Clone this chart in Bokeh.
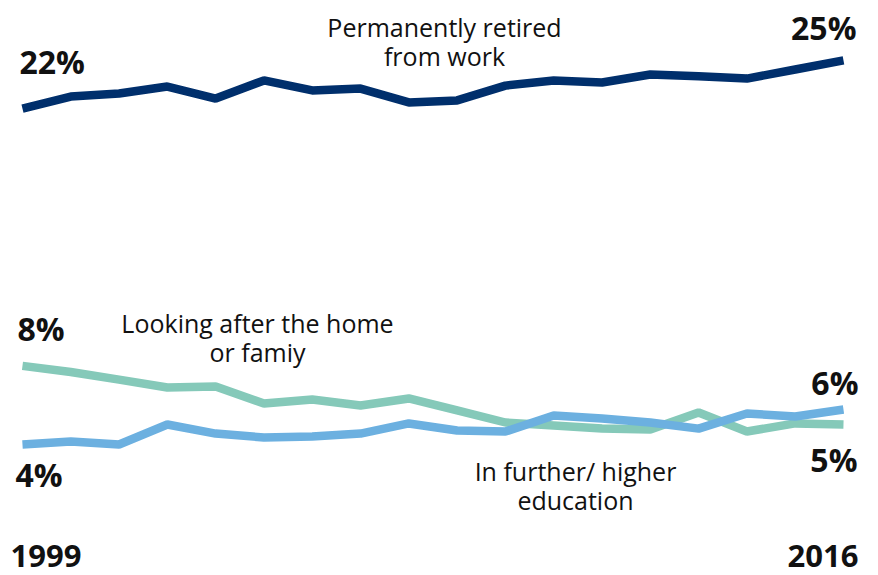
from bokeh.plotting import figure
from bokeh.models import Range1d, Label
from bokeh.embed import file_html
from bokeh.resources import INLINE

years = list(range(1999, 2017))
retired = [22.36, 23.01, 23.17, 23.55, 22.90, 23.88, 23.34, 23.44, 22.69, 22.80,
           23.60, 23.88, 23.77, 24.20, 24.10, 23.98, 24.47, 24.96]
home = [8.45, 8.12, 7.71, 7.28, 7.34, 6.42, 6.63, 6.31, 6.69, 6.04,
        5.39, 5.23, 5.06, 5.01, 5.93, 4.90, 5.34, 5.28]
education = [4.20, 4.36, 4.20, 5.28, 4.79, 4.58, 4.63, 4.79, 5.34, 4.96,
             4.90, 5.77, 5.61, 5.39, 5.06, 5.88, 5.71, 6.09]

series_names = ["Permanently retired\nfrom work", "Looking after the home\nor famiy",
                "In further/ higher\neducation"]
colors = ["#002f6c", "#85c9b9", "#6cb0e0"]

W, H = 878, 575
p = figure(width=W, height=H, output_backend="svg", toolbar_location=None,
           x_range=Range1d(1998.545, 2016.725), y_range=Range1d(-2.88, 28.2),
           min_border=0, outline_line_color=None)
p.axis.visible = False
p.grid.visible = False
p.background_fill_color = "white"
p.border_fill_color = "white"

for ys, c in zip([retired, home, education], colors):
    p.line(years, ys, line_color=c, line_width=8.5)

FONT = "Open Sans"
BIG = "32px"
MED = "25px"

def lab(x, y, text, align, xo, yo, size=BIG, style="bold", xu="data", yu="data", lh=1.0,
        baseline="middle"):
    p.add_layout(Label(x=x, y=y, text=text, x_offset=xo, y_offset=yo,
                       text_align=align, text_baseline=baseline,
                       text_font=FONT, text_font_size=size, text_font_style=style,
                       text_color="#111111", x_units=xu, y_units=yu,
                       text_line_height=lh))

# end-value labels
lab(years[0], retired[0], f"{round(retired[0])}%", "left", -3, 47)
lab(years[-1], retired[-1], f"{round(retired[-1])}%", "right", 13, 33)
lab(years[0], home[0], f"{round(home[0])}%", "left", -5, 37)
lab(years[-1], home[-1], f"{round(home[-1])}%", "right", 14, -35)
lab(years[0], education[0], f"{round(education[0])}%", "left", -7, -30)
lab(years[-1], education[-1], f"{round(education[-1])}%", "right", 15, 27)

# year labels
lab(years[0], 9, str(years[0]), "left", -12, 0, yu="screen", size="31px", baseline="bottom")
lab(years[-1], 9, str(years[-1]), "right", 15, 0, yu="screen", size="31px", baseline="bottom")

# series names
for name, cx, cy in zip(series_names, [444, 257, 575], [H - 41, H - 337, H - 485]):
    lab(cx, cy, name, "center", 0, 0, size=MED, style="normal", xu="screen", yu="screen", lh=0.88)

open("out.html", "w").write(file_html(p, INLINE))
